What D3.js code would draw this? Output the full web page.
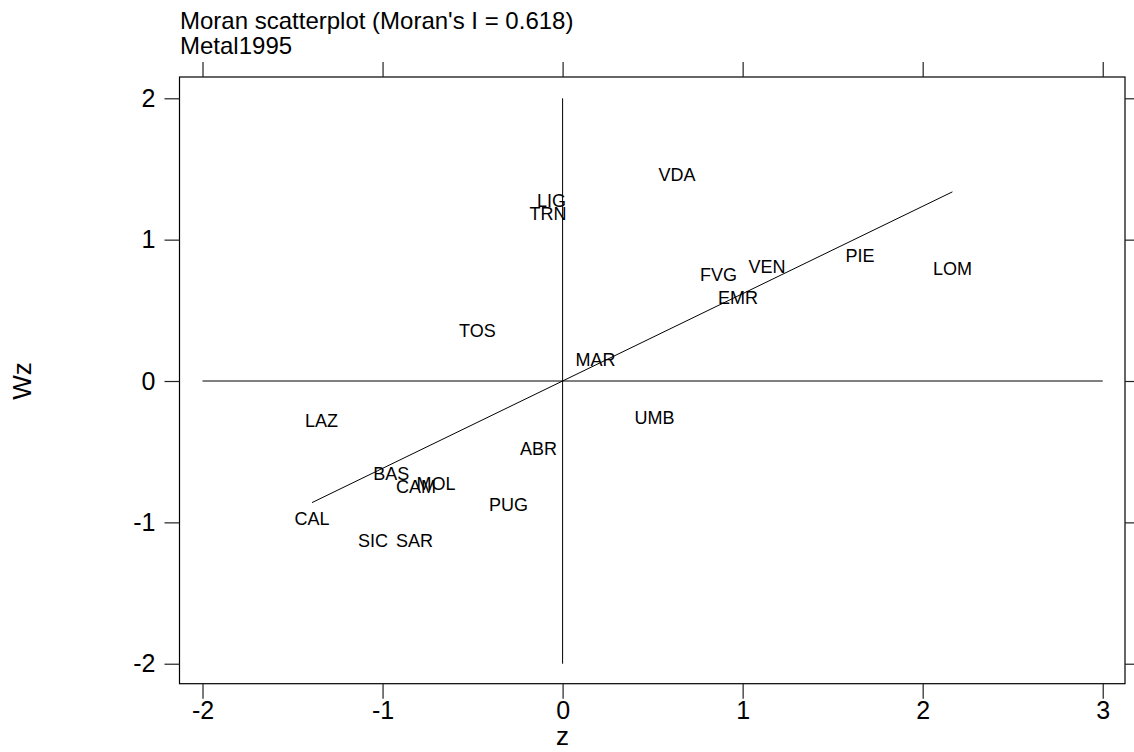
<!DOCTYPE html>
<html>
<head>
<meta charset="utf-8">
<script src="https://cdn.jsdelivr.net/npm/d3@7"></script>
<style>
  html, body { margin: 0; padding: 0; background: #fff; }
  svg { display: block; font-family: "Liberation Sans", Arial, Helvetica, sans-serif; }
</style>
</head>
<body>
<svg id="chart" width="1134" height="752"></svg>
<script>
// Italian regions: standardised metal-sector variable (z) and its spatial lag (Wz)
const regions = ["VDA", "LIG", "TRN", "TOS", "MAR", "FVG", "VEN", "EMR", "PIE", "LOM",
                 "LAZ", "ABR", "BAS", "CAM", "MOL", "PUG", "CAL", "SIC", "SAR", "UMB"];
const zValues = [0.636, -0.062, -0.081, -0.473, 0.183, 0.866, 1.136, 0.974, 1.652, 2.165,
                 -1.339, -0.134, -0.951, -0.814, -0.703, -0.301, -1.392, -1.053, -0.823, 0.510];
const wzValues = [1.457, 1.273, 1.178, 0.354, 0.152, 0.750, 0.803, 0.584, 0.884, 0.792,
                  -0.283, -0.481, -0.661, -0.753, -0.732, -0.877, -0.973, -1.135, -1.135, -0.262];
const moranI = 0.618;
const xTicks = [-2, -1, 0, 1, 2, 3];
const yTicks = [-2, -1, 0, 1, 2];
const titleText = "Moran scatterplot (Moran's I = 0.618)";
const subtitleText = "Metal1995";

const svg = d3.select("#chart");
const panel = { left: 179.5, right: 1125, top: 77, bottom: 683.7 };

const x = d3.scaleLinear().domain([-2.1278, 3.1237]).range([panel.left, panel.right]);
const y = d3.scaleLinear().domain([-2.1413, 2.1506]).range([panel.bottom, panel.top]);

const data = regions.map((r, i) => ({ name: r, z: zValues[i], wz: wzValues[i] }));

// Plain hyphen-minus tick labels
const fmt = d => String(d);

// Panel frame
svg.append("rect")
  .attr("x", panel.left).attr("y", panel.top)
  .attr("width", panel.right - panel.left).attr("height", panel.bottom - panel.top)
  .attr("fill", "none").attr("stroke", "#000").attr("stroke-width", 1.2);

// Axes on all four sides, labels only bottom and left
function styleAxis(g) {
  g.select(".domain").remove();
  g.selectAll(".tick line").attr("stroke", "#222").attr("stroke-width", 1.2);
  g.selectAll(".tick text").attr("fill", "#000").style("font-size", "25px")
    .style("font-family", "'Liberation Sans', Arial, sans-serif");
}

svg.append("g").attr("transform", `translate(0,${panel.bottom})`)
  .call(d3.axisBottom(x).tickValues(xTicks).tickFormat(fmt).tickSize(15).tickPadding(3))
  .call(styleAxis);
svg.append("g").attr("transform", `translate(0,${panel.top})`)
  .call(d3.axisTop(x).tickValues(xTicks).tickFormat("").tickSize(15))
  .call(styleAxis);
svg.append("g").attr("transform", `translate(${panel.left},0)`)
  .call(d3.axisLeft(y).tickValues(yTicks).tickFormat(fmt).tickSize(15).tickPadding(9))
  .call(styleAxis);
svg.append("g").attr("transform", `translate(${panel.right},0)`)
  .call(d3.axisRight(y).tickValues(yTicks).tickFormat("").tickSize(15))
  .call(styleAxis);

// Reference lines through the origin
svg.append("line")
  .attr("x1", x(0)).attr("x2", x(0)).attr("y1", y(2)).attr("y2", y(-2))
  .attr("stroke", "#000").attr("stroke-width", 1);
svg.append("line")
  .attr("x1", x(-2)).attr("x2", x(3)).attr("y1", y(0)).attr("y2", y(0))
  .attr("stroke", "#000").attr("stroke-width", 1);

// Regression line with slope Moran's I over the range of z
const zExt = d3.extent(zValues);
svg.append("line")
  .attr("x1", x(zExt[0])).attr("y1", y(moranI * zExt[0]))
  .attr("x2", x(zExt[1])).attr("y2", y(moranI * zExt[1]))
  .attr("stroke", "#000").attr("stroke-width", 1);

// Region labels at each point
svg.append("g").selectAll("text").data(data).join("text")
  .attr("x", d => x(d.z)).attr("y", d => y(d.wz))
  .attr("text-anchor", "middle").attr("dominant-baseline", "central")
  .style("font-size", "18px").attr("fill", "#000")
  .text(d => d.name);

// Titles
svg.append("text").attr("x", 180).attr("y", 29)
  .style("font-size", "24px").text(titleText);
svg.append("text").attr("x", 180).attr("y", 54)
  .style("font-size", "24px").text(subtitleText);

// Axis titles
svg.append("text").attr("x", x(0)).attr("y", 745)
  .attr("text-anchor", "middle").style("font-size", "26px").text("z");
svg.append("text")
  .attr("transform", `translate(31,${y(0)}) rotate(-90)`)
  .attr("text-anchor", "middle").style("font-size", "26px").text("Wz");
</script>
</body>
</html>
